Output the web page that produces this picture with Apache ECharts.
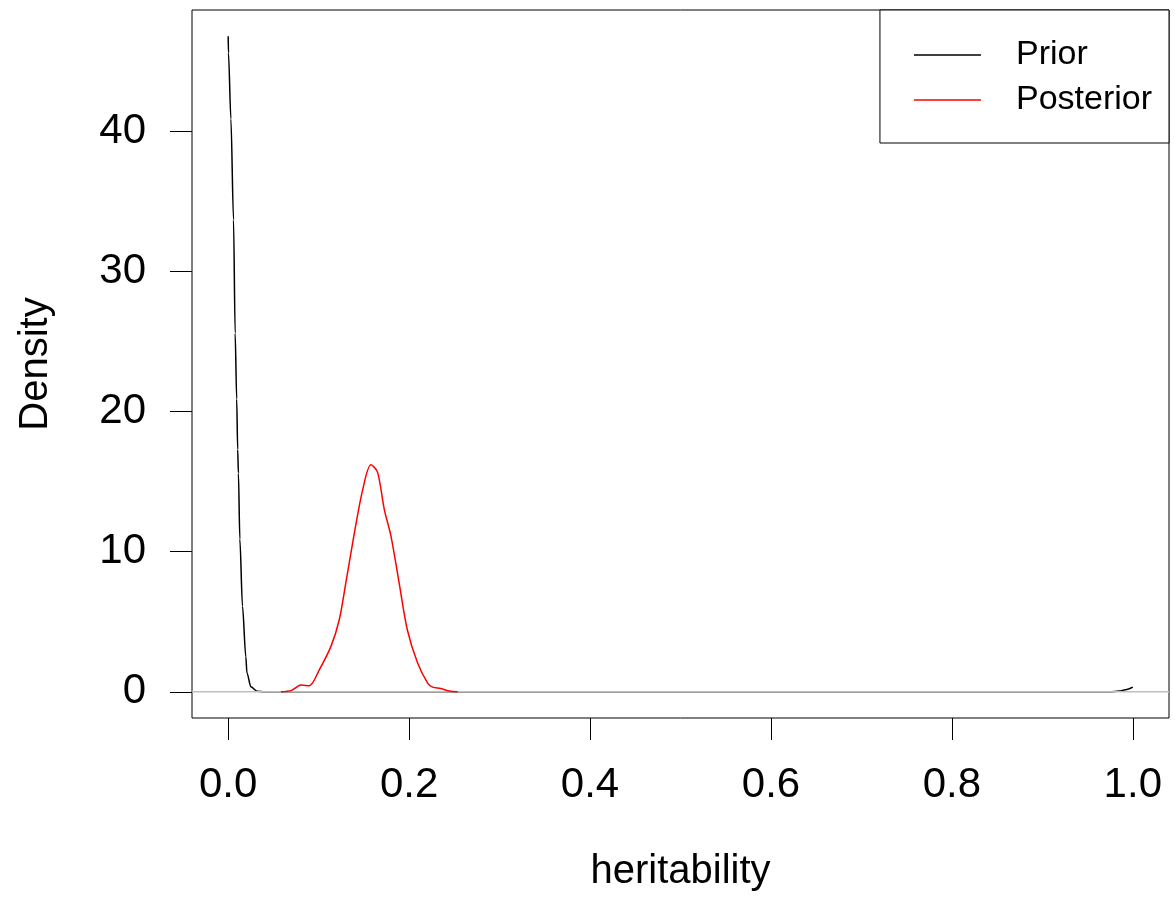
<!DOCTYPE html>
<html>
<head>
<meta charset="utf-8">
<script src="https://cdn.jsdelivr.net/npm/echarts@6/dist/echarts.min.js"></script>
<style>html,body{margin:0;padding:0;background:#fff}#c{width:1175px;height:899px}</style>
</head>
<body>
<div id="c"></div>
<script>
const xTicks = [0, 0.2, 0.4, 0.6, 0.8, 1.0];
const yTicks = [0, 10, 20, 30, 40];
const priorX = [0.0, 0.0003, 0.003, 0.0059, 0.0077, 0.0094, 0.0105, 0.0113, 0.0129, 0.0158, 0.0195, 0.0207, 0.025, 0.032, 0.04, 0.1, 0.5, 0.9, 0.975, 0.985, 0.992, 1.0];
const priorY = [46.8, 45.6, 40.9, 33.7, 25.6, 20.9, 17.3, 15.6, 10.9, 6.1, 2.5, 1.36, 0.36, 0.04, 0.0, 0.0, 0.0, 0.0, 0.0, 0.05, 0.15, 0.33];
const postX = [0.0583, 0.07, 0.0804, 0.0896, 0.1007, 0.1136, 0.1228, 0.130, 0.1394, 0.1486, 0.1578, 0.165, 0.1726, 0.180, 0.189, 0.198, 0.2094, 0.2205, 0.226, 0.235, 0.2445, 0.2537];
const postY = [0.0, 0.1, 0.48, 0.43, 1.57, 3.24, 5.14, 7.76, 11.3, 14.4, 16.2, 15.7, 13.0, 11.1, 7.76, 4.43, 2.05, 0.62, 0.33, 0.24, 0.05, 0.0];
const xName = 'heritability';
const yName = 'Density';

const font = 'Liberation Sans';
const pair = (xs, ys) => xs.map((x, i) => [x, ys[i]]);
const yMaxData = 46.8;
const yPad = yMaxData * 0.04;
const xMin = -0.04, xMax = 1.04;

const chart = echarts.init(document.getElementById('c'), null, {renderer: 'canvas'});
chart.setOption({
  animation: false,
  backgroundColor: '#fff',
  grid: {left: 192, right: 6, top: 10, bottom: 181, outerBoundsMode: 'none', containLabel: false,
    show: true, borderColor: '#000', borderWidth: 1, backgroundColor: 'transparent'},
  xAxis: {
    type: 'value', min: xMin, max: xMax,
    name: xName, nameLocation: 'middle', nameGap: 134,
    nameTextStyle: {fontFamily: font, fontSize: 40, color: '#000'},
    axisLine: {show: false, onZero: false},
    axisTick: {show: true, inside: false, length: 22, customValues: xTicks, lineStyle: {color: '#000', width: 1}},
    axisLabel: {customValues: xTicks, fontFamily: font, fontSize: 42, color: '#000', margin: 46, formatter: v => v.toFixed(1)},
    splitLine: {show: false}
  },
  yAxis: {
    type: 'value', min: -yPad, max: yMaxData + yPad,
    name: yName, nameLocation: 'middle', nameGap: 136, nameRotate: 90,
    nameTextStyle: {fontFamily: font, fontSize: 40, color: '#000'},
    axisLine: {show: false, onZero: false},
    axisTick: {show: true, inside: false, length: 22, customValues: yTicks, lineStyle: {color: '#000', width: 1}},
    axisLabel: {customValues: yTicks, fontFamily: font, fontSize: 42, color: '#000', margin: 46, formatter: v => String(v)},
    splitLine: {show: false}
  },
  legend: {
    right: 6, top: 10, orient: 'vertical',
    backgroundColor: '#fff', borderColor: '#000', borderWidth: 1, borderRadius: 0,
    padding: [25, 17, 23, 34], itemGap: 5, itemWidth: 67, itemHeight: 1.5, icon: 'rect',
    textStyle: {fontFamily: font, fontSize: 34, color: '#000', lineHeight: 40, padding: [0, 0, 0, 30]},
    data: ['Prior', 'Posterior']
  },
  series: [
    {name: 'Prior', type: 'line', data: pair(priorX, priorY), symbol: 'none', smooth: 0.3, smoothMonotone: 'x', z: 2,
      lineStyle: {color: '#000', width: 1.5}, itemStyle: {color: '#000'}},
    {name: 'zero', type: 'line', data: [[xMin, 0], [xMax, 0]], symbol: 'none', z: 3, silent: true,
      lineStyle: {color: '#bebebe', width: 1.5}, itemStyle: {color: '#bebebe'}},
    {name: 'Posterior', type: 'line', data: pair(postX, postY), symbol: 'none', smooth: 0.3, z: 4,
      lineStyle: {color: '#ff0000', width: 1.5}, itemStyle: {color: '#ff0000'}}
  ]
});
</script>
</body>
</html>
